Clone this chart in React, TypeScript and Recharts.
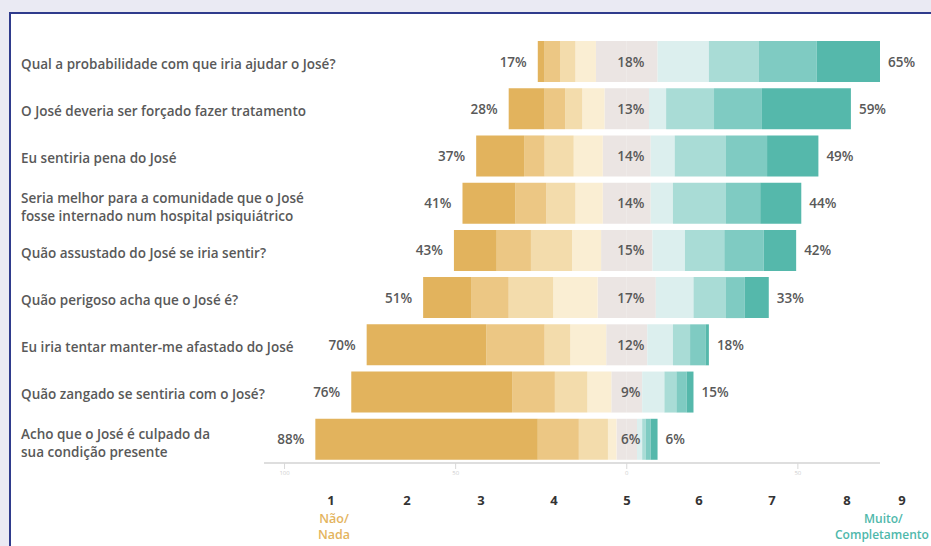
import React from 'react';
import { BarChart, Bar, XAxis, YAxis, LabelList } from 'recharts';

// question texts (one entry per line)
const questions: string[][] = [
  ['Qual a probabilidade com que iria ajudar o José?'],
  ['O José deveria ser forçado fazer tratamento'],
  ['Eu sentiria pena do José'],
  ['Seria melhor para a comunidade que o José', 'fosse internado num hospital psiquiátrico'],
  ['Quão assustado do José se iria sentir?'],
  ['Quão perigoso acha que o José é?'],
  ['Eu iria tentar manter-me afastado do José'],
  ['Quão zangado se sentiria com o José?'],
  ['Acho que o José é culpado da', 'sua condição presente'],
];

// share of answers (%) per level of the 1..9 scale
const level1 = [2, 10.5, 14, 15.5, 12.5, 14, 35, 47, 65];
const level2 = [4.5, 6, 6, 9, 10, 11, 17, 12.5, 12];
const level3 = [4.5, 5, 8.5, 8.5, 12, 13, 7.5, 9.5, 8.5];
const level4 = [6, 6.5, 8.5, 8, 8.5, 13, 10.5, 7, 2.5];
const level5 = [18, 13, 14, 14, 15, 17, 12, 9, 6];
const level6 = [15, 5, 7, 6.5, 9.5, 11, 7.5, 6.5, 1.5];
const level7 = [14.5, 14, 15, 15.5, 11.5, 9.5, 5, 3.5, 1];
const level8 = [17, 14, 12, 10, 11.5, 5.5, 4.5, 3, 1.5];
const level9 = [18.5, 26, 15, 12, 9.5, 7, 1, 2, 2];

// printed totals
const totalLow = [17, 28, 37, 41, 43, 51, 70, 76, 88];
const totalMid = [18, 13, 14, 14, 15, 17, 12, 9, 6];
const totalHigh = [65, 59, 49, 44, 42, 33, 18, 15, 6];

const axisTicks = [-100, -50, 0, 50];
const scaleLabels = ['1', '2', '3', '4', '5', '6', '7', '8', '9'];

const gold = ['#e2b35d', '#ecc784', '#f3dcac', '#faeed3'];
const grey = '#ebe5e3';
const teal = ['#dcefee', '#a9dcd6', '#7fcbc2', '#55b8ab'];
const textColor = '#595959';
const font = '"Open Sans", sans-serif';

const rows = questions.map((q, i) => ({
  name: String(i),
  midL: -level5[i] / 2,
  l4: -level4[i],
  l3: -level3[i],
  l2: -level2[i],
  l1: -level1[i],
  midR: level5[i] / 2,
  l6: level6[i],
  l7: level7[i],
  l8: level8[i],
  l9: level9[i],
  low: totalLow[i],
  mid: totalMid[i],
  high: totalHigh[i],
}));

const QuestionTick = (props: any) => {
  const lines = questions[Number(props.payload.value)] || [];
  const y0 = props.y + 7 - ((lines.length - 1) * 18) / 2 + (lines.length > 1 ? 2 : 0);
  return (
    <text x={21} y={y0} fill={textColor} fontFamily={font} fontWeight={600} fontSize={13.5}>
      {lines.map((l, k) => (
        <tspan key={k} x={21} dy={k === 0 ? 0 : 18}>{l}</tspan>
      ))}
    </text>
  );
};

const pctText = (x: number, y: number, anchor: 'start' | 'middle' | 'end', value: any) => (
  <text x={x} y={y} textAnchor={anchor} dominantBaseline="central" fill={textColor}
    fontFamily={font} fontWeight={600} fontSize={13.5}>
    {value}%
  </text>
);

const LowLabel = (p: any) => {
  const left = Math.min(p.x, p.x + p.width);
  return pctText(left - 11, p.y + p.height / 2, 'end', p.value);
};
const HighLabel = (p: any) => {
  const right = Math.max(p.x, p.x + p.width);
  return pctText(right + 8, p.y + p.height / 2, 'start', p.value);
};
const MidLabel = (p: any) => pctText(p.x + 4, p.y + p.height / 2, 'middle', p.value);

export default function App() {
  return (
    <div style={{ position: 'absolute', left: 0, top: 0, width: 931, height: 546, background: '#eaeaf3', overflow: 'hidden' }}>
      <div style={{ position: 'absolute', left: 9, top: 12, right: -10, bottom: -10, background: '#fff', borderLeft: '2px solid #2f3b8c', borderTop: '2px solid #2f3b8c' }} />
      <div style={{ position: 'absolute', left: 0, top: 0 }}>
        <BarChart width={931} height={546} data={rows} layout="vertical" stackOffset="sign"
          margin={{ top: 38, right: 51, bottom: 53, left: 0 }} barSize={41}>
          <XAxis type="number" domain={[-106, 74]} ticks={axisTicks} allowDataOverflow
            tickFormatter={(v: number) => String(Math.abs(v))}
            tick={{ fill: '#cfcfcf', fontSize: 6, fontFamily: font }}
            axisLine={{ stroke: '#dedede', strokeWidth: 2 }} tickLine={{ stroke: '#d8d8d8' }} height={30} />
          <YAxis type="category" dataKey="name" width={264} axisLine={false} tickLine={false} tick={<QuestionTick />} />
          <Bar dataKey="midL" stackId="a" fill={grey} isAnimationActive={false} />
          <Bar dataKey="l4" stackId="a" fill={gold[3]} isAnimationActive={false} />
          <Bar dataKey="l3" stackId="a" fill={gold[2]} isAnimationActive={false} />
          <Bar dataKey="l2" stackId="a" fill={gold[1]} isAnimationActive={false} />
          <Bar dataKey="l1" stackId="a" fill={gold[0]} isAnimationActive={false}>
            <LabelList dataKey="low" content={<LowLabel />} />
          </Bar>
          <Bar dataKey="midR" stackId="a" fill={grey} isAnimationActive={false}>
            <LabelList dataKey="mid" content={<MidLabel />} />
          </Bar>
          <Bar dataKey="l6" stackId="a" fill={teal[0]} isAnimationActive={false} />
          <Bar dataKey="l7" stackId="a" fill={teal[1]} isAnimationActive={false} />
          <Bar dataKey="l8" stackId="a" fill={teal[2]} isAnimationActive={false} />
          <Bar dataKey="l9" stackId="a" fill={teal[3]} isAnimationActive={false}>
            <LabelList dataKey="high" content={<HighLabel />} />
          </Bar>
        </BarChart>
      </div>
      {scaleLabels.map((s, i) => (
        <div key={s} style={{ position: 'absolute', top: 491, left: [331, 407, 481, 554, 627, 699, 772, 847, 902][i] - 15, width: 30, textAlign: 'center', fontFamily: font, fontWeight: 700, fontSize: 13, color: '#333' }}>{s}</div>
      ))}
      <div style={{ position: 'absolute', top: 511, left: 294, width: 80, textAlign: 'center', fontFamily: font, fontWeight: 600, fontSize: 12.5, lineHeight: '16px', color: '#e4b45e' }}>Não/<br />Nada</div>
      <div style={{ position: 'absolute', top: 511, left: 835, width: 95, textAlign: 'left', fontFamily: font, fontWeight: 600, fontSize: 12, lineHeight: '16px', color: '#4fb8ab', whiteSpace: 'nowrap' }}>
        <div style={{ paddingLeft: 29 }}>Muito/</div>Completamento
      </div>
    </div>
  );
}
